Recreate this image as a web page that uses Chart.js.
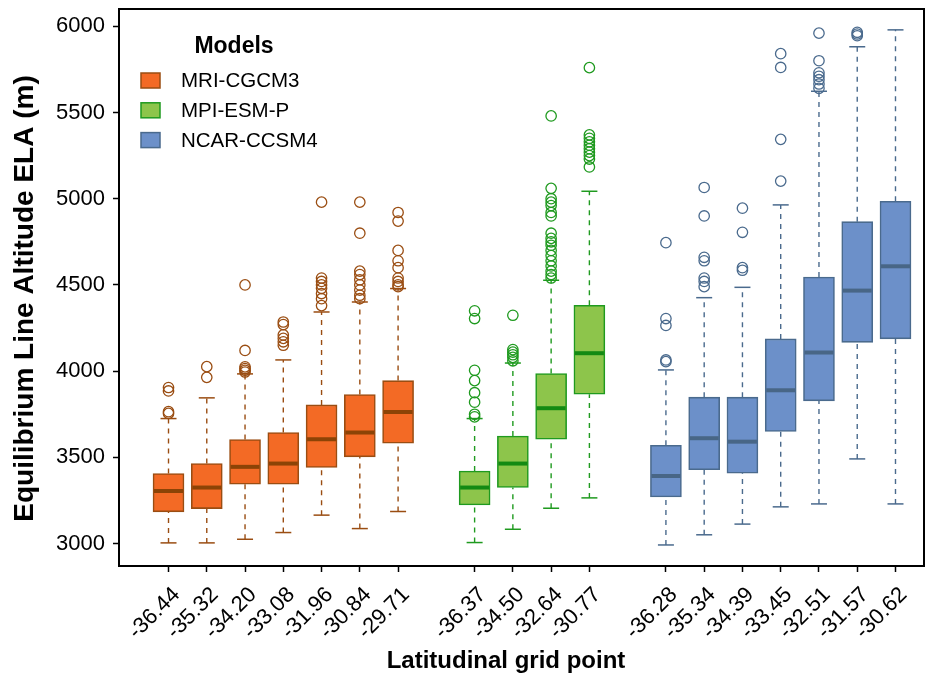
<!DOCTYPE html>
<html>
<head>
<meta charset="utf-8">
<script src="https://cdn.jsdelivr.net/npm/chart.js@4.4.1/dist/chart.umd.min.js"></script>
<style>
  html, body { margin: 0; padding: 0; background: #ffffff; }
  canvas { display: block; }
</style>
</head>
<body>
<canvas id="ela" width="932" height="676"></canvas>
<script>
// ---- Data: ELA distribution per latitudinal grid point (m) ----
const modelNames = ['MRI-CGCM3', 'MPI-ESM-P', 'NCAR-CCSM4'];

const mriLat  = ['-36.44', '-35.32', '-34.20', '-33.08', '-31.96', '-30.84', '-29.71'];
const mriLow  = [3004, 3004, 3025, 3064, 3165, 3087, 3186];
const mriQ1   = [3184, 3203, 3344, 3344, 3441, 3503, 3582];
const mriMed  = [3305, 3325, 3445, 3464, 3605, 3644, 3763];
const mriQ3   = [3406, 3464, 3603, 3644, 3804, 3864, 3945];
const mriHigh = [3725, 3845, 3984, 4065, 4343, 4401, 4479];
const mriOut  = [
  [3755, 3765, 3885, 3905],
  [3964, 4026],
  [3995, 4005, 4015, 4025, 4120, 4500],
  [4150, 4170, 4190, 4210, 4270, 4285],
  [4380, 4420, 4450, 4480, 4500, 4520, 4540, 4980],
  [4420, 4440, 4470, 4500, 4530, 4560, 4580, 4800, 4980],
  [4490, 4500, 4520, 4540, 4600, 4640, 4700, 4870, 4920]
];

const mpiLat  = ['-36.37', '-34.50', '-32.64', '-30.77'];
const mpiLow  = [3006, 3083, 3205, 3265];
const mpiQ1   = [3224, 3325, 3605, 3866];
const mpiMed  = [3325, 3464, 3785, 4104];
const mpiQ3   = [3421, 3624, 3986, 4382];
const mpiHigh = [3725, 4047, 4527, 5043];
const mpiOut  = [
  [3735, 3750, 3820, 3875, 3945, 4005, 4305, 4350],
  [4060, 4080, 4095, 4110, 4125, 4324],
  [4540, 4560, 4580, 4610, 4640, 4670, 4700, 4730, 4750, 4770, 4800, 4900, 4920, 4960, 4980, 5000, 5060, 5480],
  [5184, 5230, 5250, 5270, 5290, 5310, 5330, 5350, 5370, 5760]
];

const ncarLat  = ['-36.28', '-35.34', '-34.39', '-33.45', '-32.51', '-31.57', '-30.62'];
const ncarLow  = [2992, 3051, 3113, 3213, 3230, 3491, 3230];
const ncarQ1   = [3270, 3428, 3408, 3650, 3828, 4167, 4187];
const ncarMed  = [3392, 3611, 3591, 3889, 4108, 4467, 4608];
const ncarQ3   = [3570, 3849, 3849, 4187, 4546, 4867, 4985];
const ncarHigh = [4007, 4426, 4486, 4964, 5623, 5881, 5979];
const ncarOut  = [
  [4055, 4065, 4265, 4305, 4745],
  [4490, 4520, 4540, 4640, 4660, 4900, 5065],
  [4585, 4600, 4805, 4945],
  [5102, 5344, 5761, 5841],
  [5640, 5665, 5690, 5710, 5730, 5800, 5960],
  [5945, 5955, 5965],
  []
];

const yTickValues = [3000, 3500, 4000, 4500, 5000, 5500, 6000];

const xTitle = 'Latitudinal grid point';
const yTitle = 'Equilibrium Line Altitude ELA (m)';
const keyTitle = 'Models';

// ---- Styling ----
const FONT = '"Liberation Sans", Arial, Helvetica, sans-serif';
const styles = [
  { fill: '#F36A25', line: '#9A4D12', median: '#8C4306' },
  { fill: '#8DC54B', line: '#1F9A1F', median: '#138A13' },
  { fill: '#6C90C9', line: '#4A6A8D', median: '#486686' }
];

// Groups sit on a shared linear axis with one empty slot between them
const groups = [
  { lat: mriLat,  low: mriLow,  q1: mriQ1,  med: mriMed,  q3: mriQ3,  high: mriHigh,  out: mriOut,  start: 1 },
  { lat: mpiLat,  low: mpiLow,  q1: mpiQ1,  med: mpiMed,  q3: mpiQ3,  high: mpiHigh,  out: mpiOut,  start: 9 },
  { lat: ncarLat, low: ncarLow, q1: ncarQ1, med: ncarMed, q3: ncarQ3, high: ncarHigh, out: ncarOut, start: 14 }
];

const tickPositions = [];
const tickLabels = [];
const datasets = [];

groups.forEach((g, gi) => {
  const st = styles[gi];
  const xs = g.lat.map((_, i) => g.start + i);
  xs.forEach((x, i) => { tickPositions.push(x); tickLabels.push(g.lat[i]); });

  // box (Q1..Q3)
  datasets.push({
    type: 'bar',
    label: modelNames[gi],
    data: xs.map((x, i) => ({ x: x, y: [g.q1[i], g.q3[i]] })),
    backgroundColor: st.fill,
    borderColor: st.line,
    borderWidth: 1.6,
    borderSkipped: false,
    barThickness: 31,
    grouped: false,
    order: 3
  });

  // dashed whiskers
  const wData = [];
  xs.forEach((x, i) => {
    wData.push({ x: x, y: g.q3[i] }, { x: x, y: g.high[i] }, { x: x, y: null });
    wData.push({ x: x, y: g.low[i] }, { x: x, y: g.q1[i] }, { x: x, y: null });
  });
  datasets.push({
    type: 'line',
    data: wData,
    borderColor: st.line,
    borderWidth: 1.4,
    borderDash: [5, 5],
    pointRadius: 0,
    spanGaps: false,
    fill: false,
    tension: 0,
    order: 4
  });

  // whisker caps
  const capData = [];
  xs.forEach((x, i) => { capData.push({ x: x, y: g.low[i] }, { x: x, y: g.high[i] }); });
  datasets.push({
    type: 'scatter',
    data: capData,
    pointStyle: 'line',
    pointRadius: 8,
    borderColor: st.line,
    borderWidth: 1.5,
    order: 2
  });

  // medians
  datasets.push({
    type: 'scatter',
    data: xs.map((x, i) => ({ x: x, y: g.med[i] })),
    pointStyle: 'line',
    pointRadius: 14.5,
    borderColor: st.median,
    borderWidth: 4,
    order: 0
  });

  // outliers
  const oData = [];
  xs.forEach((x, i) => { g.out[i].forEach(v => oData.push({ x: x, y: v })); });
  datasets.push({
    type: 'scatter',
    data: oData,
    pointStyle: 'circle',
    pointRadius: 5.2,
    borderWidth: 1.3,
    backgroundColor: 'rgba(0,0,0,0)',
    borderColor: st.line,
    order: 1
  });
});

// Frame around the plotting region plus the two axis titles
const framePlugin = {
  id: 'frame',
  afterDraw(chart) {
    const { ctx, chartArea: a } = chart;
    ctx.save();
    ctx.strokeStyle = '#000';
    ctx.lineWidth = 2;
    ctx.strokeRect(a.left, a.top, a.right - a.left, a.bottom - a.top);

    ctx.fillStyle = '#000';
    ctx.textAlign = 'center';
    ctx.textBaseline = 'middle';
    ctx.font = 'bold 24px ' + FONT;
    ctx.fillText(xTitle, 506, 661);

    ctx.translate(25, 298.5);
    ctx.rotate(-Math.PI / 2);
    ctx.font = 'bold 28px ' + FONT;
    ctx.fillText(yTitle, 0, 0);
    ctx.restore();
  }
};

// Model key in the upper-left corner of the plot
const keyPlugin = {
  id: 'modelKey',
  afterDraw(chart) {
    const { ctx, chartArea: a } = chart;
    ctx.save();
    ctx.fillStyle = '#000';
    ctx.textBaseline = 'middle';
    ctx.textAlign = 'center';
    ctx.font = 'bold 23px ' + FONT;
    ctx.fillText(keyTitle, a.left + 115, 47);
    ctx.textAlign = 'left';
    ctx.font = '20.5px ' + FONT;
    modelNames.forEach((name, i) => {
      const cy = 80.5 + i * 29.8;
      ctx.fillStyle = styles[i].fill;
      ctx.fillRect(a.left + 22, cy - 7.5, 19, 15);
      ctx.strokeStyle = styles[i].line;
      ctx.lineWidth = 1.5;
      ctx.strokeRect(a.left + 22, cy - 7.5, 19, 15);
      ctx.fillStyle = '#000';
      ctx.fillText(name, a.left + 62, cy + 1);
    });
    ctx.restore();
  }
};

new Chart(document.getElementById('ela'), {
  type: 'bar',
  data: { datasets: datasets },
  plugins: [framePlugin, keyPlugin],
  options: {
    responsive: false,
    devicePixelRatio: 1,
    animation: false,
    events: [],
    layout: { autoPadding: false, padding: { top: 9, right: 8, left: 0, bottom: 0 } },
    plugins: { legend: { display: false }, tooltip: { enabled: false } },
    scales: {
      x: {
        type: 'linear',
        offset: false,
        min: -0.294,
        max: 20.745,
        afterBuildTicks: s => { s.ticks = tickPositions.map(v => ({ value: v })); },
        afterFit: s => { s.height = 110; s.paddingLeft = 0; s.paddingRight = 0; },
        grid: { offset: false, drawOnChartArea: false, drawTicks: true, tickLength: 6, tickColor: '#000', tickWidth: 1.5 },
        border: { display: false },
        ticks: {
          autoSkip: false,
          minRotation: 45,
          maxRotation: 45,
          padding: 10,
          labelOffset: 8,
          color: '#000',
          font: { family: FONT, size: 22 },
          callback: (value, index) => tickLabels[index]
        },
        title: { display: false }
      },
      y: {
        type: 'linear',
        min: 2870,
        max: 6100,
        afterBuildTicks: s => { s.ticks = yTickValues.map(v => ({ value: v })); },
        afterFit: s => { s.width = 119; s.paddingTop = 0; s.paddingBottom = 0; },
        grid: { drawOnChartArea: false, drawTicks: true, tickLength: 6, tickColor: '#000', tickWidth: 1.5 },
        border: { display: false },
        ticks: {
          padding: 8,
          color: '#000',
          font: { family: FONT, size: 22 },
          callback: value => String(value)
        },
        title: { display: false }
      }
    }
  }
});
</script>
</body>
</html>
